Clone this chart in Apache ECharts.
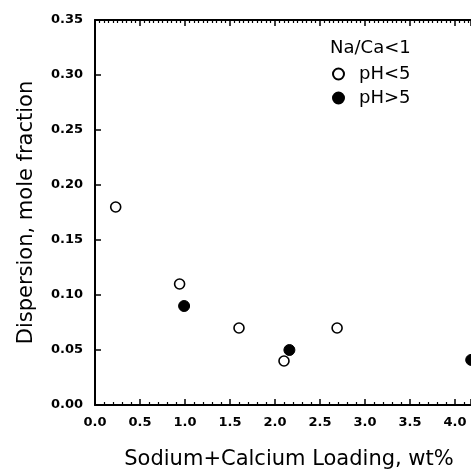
<!DOCTYPE html>
<html><head><meta charset="utf-8">
<script src="https://cdn.jsdelivr.net/npm/echarts@6/dist/echarts.min.js"></script>
<style>html,body{margin:0;padding:0;background:#fff}#c{width:471px;height:470px}</style>
</head><body><div id="c"></div>
<script>
const seriesNames = ['pH<5', 'pH>5'];
const openX = [0.23, 0.94, 1.60, 2.10, 2.69];
const openY = [0.180, 0.110, 0.070, 0.040, 0.070];
const filledX = [0.99, 2.16, 4.18];
const filledY = [0.090, 0.050, 0.041];
const legendTitle = 'Na/Ca<1';
const xTitle = 'Sodium+Calcium Loading, wt%';
const yTitle = 'Dispersion, mole fraction';

const font = 'DejaVu Sans';
const chart = echarts.init(document.getElementById('c'));
const zip = (a, b) => a.map((v, i) => [v, b[i]]);
const xMax = 376 / 90;
chart.setOption({
  animation: false,
  backgroundColor: '#fff',
  title: { text: legendTitle, left: 330, top: 39, padding: 0,
    textStyle: { fontFamily: font, fontSize: 18, fontWeight: 'normal', color: '#000' } },
  legend: {
    orient: 'vertical', left: 327, top: 60, itemGap: 6, itemWidth: 11, itemHeight: 11,
    textStyle: { fontFamily: font, fontSize: 18, color: '#000', padding: [0, 0, 0, 10] },
    data: seriesNames
  },
  grid: { left: 95, top: 20, right: 0, height: 385, outerBoundsMode: 'none', containLabel: false },
  xAxis: [{
    type: 'value', min: 0, max: xMax, interval: 0.5, position: 'bottom',
    name: xTitle, nameLocation: 'middle', nameGap: 44,
    nameTextStyle: { fontFamily: font, fontSize: 21, color: '#000', padding: [0, 0, 0, 12] },
    axisLine: { show: true, lineStyle: { color: '#000', width: 2 } },
    axisTick: { show: true, inside: true, length: 6, lineStyle: { color: '#000', width: 1.5 } },
    minorTick: { show: true, splitNumber: 5, length: 3, lineStyle: { color: '#000', width: 1.2 } },
    axisLabel: { fontFamily: font, fontSize: 13, fontWeight: 'bold', color: '#000', margin: 11,
      showMaxLabel: false, formatter: v => v.toFixed(1) },
    splitLine: { show: false }
  }, {
    type: 'value', min: 0, max: xMax, interval: 0.5, position: 'top',
    axisLine: { show: true, lineStyle: { color: '#000', width: 2 } },
    axisTick: { show: true, inside: true, length: 6, lineStyle: { color: '#000', width: 1.5 } },
    minorTick: { show: true, splitNumber: 10, length: 3, lineStyle: { color: '#000', width: 1.2 } },
    axisLabel: { show: false },
    splitLine: { show: false }
  }],
  yAxis: {
    type: 'value', min: 0, max: 0.35, interval: 0.05,
    name: yTitle, nameLocation: 'middle', nameGap: 58,
    nameTextStyle: { fontFamily: font, fontSize: 21, color: '#000' },
    axisLine: { show: true, lineStyle: { color: '#000', width: 2 } },
    axisTick: { show: true, inside: true, length: 6, lineStyle: { color: '#000', width: 1.5 } },
    axisLabel: { fontFamily: font, fontSize: 13, fontWeight: 'bold', color: '#000', margin: 12,
      formatter: v => v.toFixed(2) },
    splitLine: { show: false }
  },
  series: [{
    name: seriesNames[0], type: 'scatter', symbol: 'circle', symbolSize: 10, clip: false,
    itemStyle: { color: '#fff', borderColor: '#000', borderWidth: 1.6, opacity: 1 },
    data: zip(openX, openY)
  }, {
    name: seriesNames[1], type: 'scatter', symbol: 'circle', symbolSize: 11, clip: false,
    itemStyle: { color: '#000', borderColor: '#000', borderWidth: 1, opacity: 1 },
    data: zip(filledX, filledY)
  }]
});
</script></body></html>
